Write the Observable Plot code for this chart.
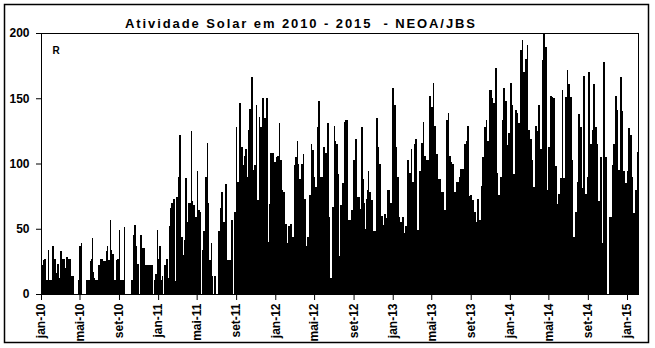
<!DOCTYPE html>
<html><head><meta charset="utf-8">
<script src="https://cdn.jsdelivr.net/npm/d3@7"></script>
<script src="https://cdn.jsdelivr.net/npm/@observablehq/plot@0.6"></script>
<style>
html,body{margin:0;padding:0;background:#fff;}
#chart{position:relative;width:655px;height:348px;}
</style></head><body><div id="chart"></div>
<script>
const titleText = "Atividade Solar em 2010 - 2015  - NEOA/JBS";
const seriesLabel = "R";
const startDate = "2010-01-01";
const daysPerBar = 1826 / 586;
const tickDates = ["2010-01-01","2010-05-01","2010-09-01","2011-01-01","2011-05-01","2011-09-01",
  "2012-01-01","2012-05-01","2012-09-01","2013-01-01","2013-05-01","2013-09-01",
  "2014-01-01","2014-05-01","2014-09-01","2015-01-01"];
const tickLabels = ["jan-10","mai-10","set-10","jan-11","mai-11","set-11","jan-12","mai-12","set-12",
  "jan-13","mai-13","set-13","jan-14","mai-14","set-14","jan-15"];
const yTicks = [0, 50, 100, 150, 200];
const rValues = [
18,22,26,27,27,11,11,34,11,11,
11,37,37,27,27,16,23,23,12,33,
33,27,27,27,20,28,28,27,27,27,
14,14,14,0,0,0,0,11,37,37,
39,0,0,0,0,11,11,11,11,25,
27,43,17,12,11,11,11,22,22,27,
27,27,25,25,25,33,37,26,26,57,
34,31,31,11,11,26,27,27,49,11,
11,11,11,51,0,0,0,0,0,0,
11,11,45,53,53,37,23,23,0,45,
45,35,35,35,22,22,22,22,22,22,
22,22,0,11,15,15,49,27,37,37,
11,14,0,22,22,27,27,12,52,66,
70,70,73,73,10,74,74,90,122,122,
44,44,30,41,89,89,55,70,70,70,
125,71,68,68,59,59,94,64,64,63,
0,34,48,48,90,90,116,70,26,26,
39,14,0,14,14,0,0,48,48,66,
78,78,55,55,84,84,26,26,26,26,
57,57,0,63,63,128,86,86,146,146,
113,113,99,106,111,111,90,126,142,142,
166,166,95,99,99,145,72,72,136,128,
128,150,150,135,135,150,150,40,69,108,
108,108,108,101,101,105,106,106,131,103,
103,80,78,78,54,54,39,52,52,54,
54,44,44,99,105,105,117,100,88,88,
100,100,107,73,73,37,44,44,76,76,
115,110,110,90,82,82,128,148,148,90,
90,90,113,113,108,108,131,131,59,12,
12,67,67,129,117,115,115,92,29,68,
68,85,85,132,133,133,133,57,57,57,
64,64,103,103,119,119,74,74,74,65,
128,128,88,70,50,73,80,94,78,78,
72,72,48,48,48,135,135,113,100,100,
60,60,53,61,61,58,80,80,80,70,
70,158,158,145,145,113,90,90,59,55,
55,59,59,47,52,52,103,103,93,93,
111,86,86,115,119,119,49,49,94,94,
116,116,132,106,106,103,103,103,152,152,
143,143,162,129,129,107,107,88,88,88,
78,78,78,64,64,133,133,139,106,106,
101,100,100,78,78,86,86,86,90,96,
96,96,96,115,115,117,129,129,75,76,
76,72,72,63,63,55,73,73,57,57,
83,105,105,128,128,133,117,117,156,156,
156,150,146,146,173,173,93,76,76,90,
90,133,158,158,148,148,114,123,123,162,
162,145,92,92,141,141,139,131,131,187,
187,195,170,170,180,180,191,126,126,119,
119,103,82,82,129,129,125,145,145,111,
111,179,200,200,189,189,80,113,113,152,
152,151,150,150,98,98,69,77,77,89,
89,156,89,89,151,151,172,161,161,151,
151,103,44,44,63,63,86,138,138,128,
128,81,167,167,77,77,90,170,170,115,
115,126,161,161,128,128,115,71,71,105,
105,39,178,178,105,105,0,0,59,59,
59,99,115,115,152,152,141,95,95,166,
166,140,94,94,85,85,94,127,127,122,
122,90,62,62,80,80,109
];

const DAY = 864e5;
const t0 = new Date(startDate).getTime();
const bars = rValues.map((v, i) => ({
  x1: new Date(t0 + i * daysPerBar * DAY),
  x2: new Date(t0 + (i + 1) * daysPerBar * DAY),
  y: v
}));
const tEnd = new Date(t0 + rValues.length * daysPerBar * DAY);
const ticks = tickDates.map(s => new Date(s));
const labelByTime = new Map(ticks.map((d, i) => [d.getTime(), tickLabels[i]]));

const W = 655, H = 348, ML = 41, MT = 33, MB = 54;
const MR = W - ML - rValues.length;

const chart = Plot.plot({
  width: W, height: H,
  marginLeft: ML, marginRight: MR, marginTop: MT, marginBottom: MB,
  x: {type: "utc", domain: [new Date(t0), tEnd], axis: null, label: null},
  y: {domain: [0, 200], axis: null, label: null},
  style: {fontFamily: "'Liberation Sans', Arial, sans-serif", fontWeight: "bold", fontSize: "12px", color: "black", background: "white", overflow: "visible"},
  marks: [
    Plot.rectY(bars, {x1: "x1", x2: "x2", y: "y", fill: "black", shapeRendering: "crispEdges"}),
    Plot.frame({stroke: "black"}),
    Plot.axisY({anchor: "left", label: null, ticks: yTicks, tickSize: 5, tickPadding: 7, fontSize: 12, tickFormat: d => String(d)}),
    Plot.axisX({anchor: "bottom", label: null, ticks: ticks, tickFormat: d => labelByTime.get(d.getTime()), tickRotate: -90, tickSize: 6, tickPadding: 3, fontSize: 12}),
    Plot.text([seriesLabel], {frameAnchor: "top-left", text: d => d, dx: 11, dy: 13, fontSize: 10, fontWeight: "bold", fill: "black"})
  ]
});

const svg = d3.select(chart);
svg.append("rect")
  .attr("x", 4.5).attr("y", 4.5).attr("width", 644).attr("height", 338)
  .attr("fill", "none").attr("stroke", "black").attr("stroke-width", 1.5);
svg.append("text")
  .attr("x", 300).attr("y", 28)
  .attr("text-anchor", "middle")
  .attr("textLength", 350).attr("lengthAdjust", "spacing")
  .style("font", "bold 13px 'Liberation Sans', Arial, sans-serif")
  .attr("fill", "black")
  .text(titleText);

document.getElementById("chart").appendChild(chart);
</script>
</body></html>
